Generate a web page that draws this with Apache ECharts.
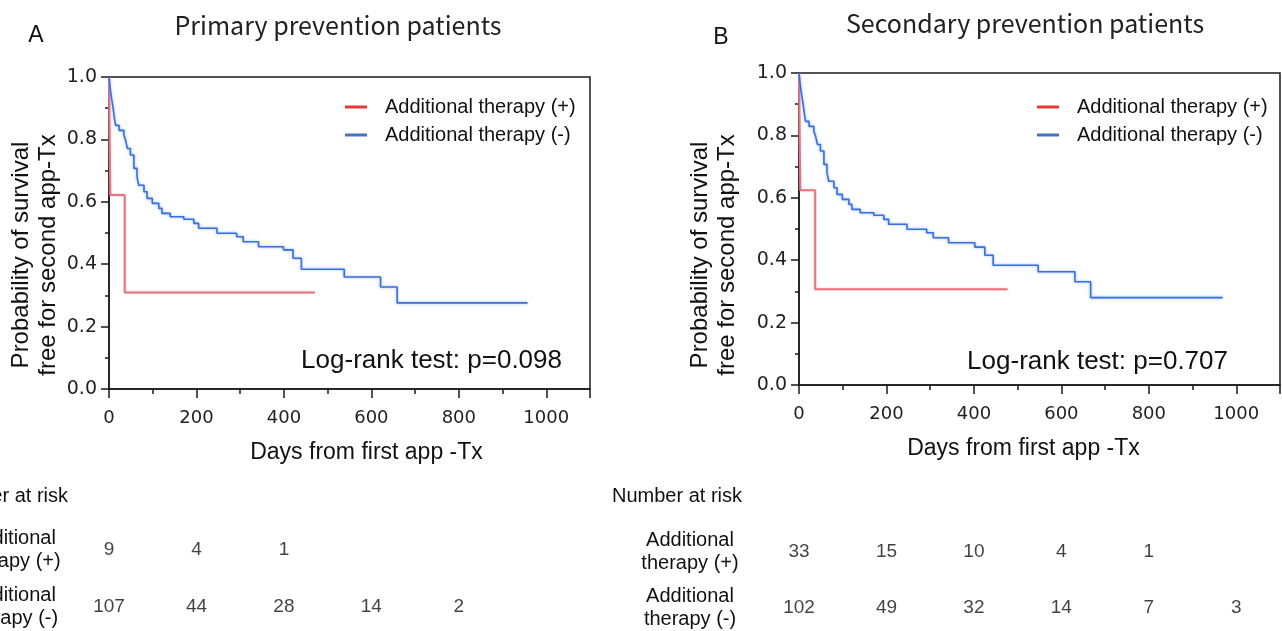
<!DOCTYPE html>
<html>
<head>
<meta charset="utf-8">
<script src="https://cdn.jsdelivr.net/npm/echarts@6/dist/echarts.min.js"></script>
<style>
html,body{margin:0;padding:0;background:#fff;}
#main{width:1282px;height:631px;}
</style>
</head>
<body>
<div id="main"></div>
<script>
// ---------- data ----------
const panelTitles = ['Primary prevention patients', 'Secondary prevention patients'];
const panelLetters = ['A', 'B'];
const seriesNames = ['Additional therapy (+)', 'Additional therapy (-)'];
const pValues = ['Log-rank test: p=0.098', 'Log-rank test: p=0.707'];
const xTicks = [0, 200, 400, 600, 800, 1000];
const yTicks = [0.0, 0.2, 0.4, 0.6, 0.8, 1.0];

// Panel A curves (days, survival)
const redA_t = [0, 3, 36, 471];
const redA_s = [1.0, 0.622, 0.309, 0.309];
const blueA_t = [0,3,6,9,12,15,23,34,38,42,49,57,64,68,80,87,99,114,121,140,171,194,205,247,292,307,342,399,421,440,538,621,659,957];
const blueA_s = [1.0,0.96,0.93,0.904,0.872,0.845,0.829,0.813,0.797,0.771,0.75,0.707,0.68,0.653,0.632,0.611,0.595,0.579,0.563,0.552,0.544,0.531,0.515,0.499,0.488,0.472,0.456,0.446,0.419,0.384,0.359,0.327,0.276,0.276];

// Panel B curves
const redB_t = [0, 3, 37, 477];
const redB_s = [1.0, 0.624, 0.307, 0.307];
const blueB_t = [0,3,6,9,12,15,23,34,38,42,49,57,64,68,80,87,99,114,121,140,171,194,205,247,292,307,342,402,425,444,547,631,667,969];
const blueB_s = [1.0,0.96,0.93,0.904,0.872,0.845,0.829,0.813,0.797,0.771,0.75,0.707,0.68,0.653,0.632,0.611,0.595,0.579,0.563,0.552,0.544,0.531,0.515,0.499,0.488,0.472,0.456,0.442,0.416,0.384,0.363,0.331,0.28,0.28];

// Number at risk
const riskTimes = [0, 200, 400, 600, 800, 1000];
const riskA_plus = [9, 4, 1];
const riskA_minus = [107, 44, 28, 14, 2];
const riskB_plus = [33, 15, 10, 4, 1];
const riskB_minus = [102, 49, 32, 14, 7, 3];
const riskRows = ['Additional\ntherapy (+)', 'Additional\ntherapy (-)'];

// ---------- build ----------
const zip = (t, s) => t.map((d, i) => [d, s[i]]);
const riskData = (vals, row) => vals.map((v, i) => [riskTimes[i], row, v]);

const RED = '#e8747f', BLUE = '#3a6ee0';
const LEG_RED = '#e53935', LEG_BLUE = '#4472c4';
const AX = '#1a1a1a';
const FONT = 'Liberation Sans';

const plotGrids = [
  {left: 109, top: 77, width: 481, height: 312},
  {left: 799, top: 73, width: 481, height: 312}
];
const tableGrids = [
  {left: 109, top: 521, width: 481, height: 114},
  {left: 799, top: 524, width: 481, height: 112}
];

const grid = [];
const xAxis = [];
const yAxis = [];
const series = [];

plotGrids.forEach((g, i) => {
  grid.push(Object.assign({show: true, borderColor: AX, borderWidth: 1.5, backgroundColor: '#fff',
    containLabel: false, outerBoundsMode: 'none'}, g));
  xAxis.push({
    gridIndex: i, type: 'value', min: 0, max: 1100, interval: 200,
    axisLine: {show: true, onZero: false, lineStyle: {color: AX, width: 1.5}},
    axisTick: {show: true, length: 9, lineStyle: {color: AX, width: 1.5}},
    minorTick: {show: true, splitNumber: 2, length: 5, lineStyle: {color: AX, width: 1.5}},
    splitLine: {show: false},
    axisLabel: {color: '#222', fontFamily: 'DejaVu Sans', fontSize: 18, margin: 20,
      formatter: v => (v > 1000 ? '' : String(v))},
    name: 'Days from first app -Tx', nameLocation: 'middle', nameGap: 52,
    nameTextStyle: {color: '#111', fontFamily: FONT, fontSize: 23,
      padding: i === 0 ? [0, 0, 0, 34] : [0, 32, 0, 0]}
  });
  yAxis.push({
    gridIndex: i, type: 'value', min: 0, max: 1, interval: 0.2,
    axisLine: {show: true, onZero: false, lineStyle: {color: AX, width: 1.5}},
    axisTick: {show: true, length: 8, lineStyle: {color: AX, width: 1.5}},
    minorTick: {show: true, splitNumber: 2, length: 4, lineStyle: {color: AX, width: 1.5}},
    splitLine: {show: false},
    axisLabel: {color: '#222', fontFamily: 'DejaVu Sans', fontSize: 19, margin: 12,
      formatter: v => v.toFixed(1)}
  });
});

tableGrids.forEach((g, i) => {
  grid.push(Object.assign({show: false, containLabel: false, outerBoundsMode: 'none'}, g));
  xAxis.push({gridIndex: 2 + i, type: 'value', min: 0, max: 1100, show: false});
  yAxis.push({
    gridIndex: 2 + i, type: 'category', data: riskRows, inverse: true,
    axisLine: {show: false}, axisTick: {show: false}, splitLine: {show: false},
    axisLabel: {color: '#111', fontFamily: FONT, fontSize: 20, lineHeight: 23,
      align: 'center', margin: i === 0 ? 97 : 109}
  });
});

const curveSets = [
  [zip(redA_t, redA_s), zip(blueA_t, blueA_s)],
  [zip(redB_t, redB_s), zip(blueB_t, blueB_s)]
];
curveSets.forEach((sets, i) => {
  series.push({
    name: seriesNames[0], type: 'line', step: 'end', xAxisIndex: i, yAxisIndex: i,
    data: sets[0], showSymbol: false, symbol: 'none', color: RED,
    lineStyle: {color: RED, width: 2, shadowColor: 'rgba(240,150,160,0.6)', shadowBlur: 2}
  });
  series.push({
    name: seriesNames[1], type: 'line', step: 'end', xAxisIndex: i, yAxisIndex: i,
    data: sets[1], showSymbol: false, symbol: 'none', color: BLUE,
    lineStyle: {color: BLUE, width: 1.6, shadowColor: 'rgba(120,160,240,0.8)', shadowBlur: 3}
  });
});

const riskSets = [
  [riskA_plus, riskA_minus],
  [riskB_plus, riskB_minus]
];
riskSets.forEach((rows, i) => {
  rows.forEach((vals, r) => {
    series.push({
      type: 'scatter', xAxisIndex: 2 + i, yAxisIndex: 2 + i,
      data: riskData(vals, riskRows[r]), symbolSize: 0, silent: true,
      label: {show: true, position: 'inside', color: '#111', fontFamily: FONT, fontSize: 19,
        formatter: p => String(p.value[2])}
    });
  });
});

const legendCommon = {
  orient: 'vertical', icon: 'rect', itemWidth: 22, itemHeight: 3, itemGap: 8,
  textStyle: {color: '#111', fontFamily: FONT, fontSize: 20, padding: [0, 0, 0, 13]},
  selectedMode: false,
  data: [
    {name: seriesNames[0], itemStyle: {color: LEG_RED}},
    {name: seriesNames[1], itemStyle: {color: LEG_BLUE}}
  ]
};
const legend = [
  Object.assign({left: 340, top: 92}, legendCommon),
  Object.assign({left: 1032, top: 92}, legendCommon)
];

const graphic = [
  {type: 'text', x: 338, y: 25, style: {text: panelTitles[0], fill: '#222', font: '25px "Noto Sans CJK JP"', align: 'center', verticalAlign: 'middle'}},
  {type: 'text', x: 1025, y: 23, style: {text: panelTitles[1], fill: '#222', font: '25px "Noto Sans CJK JP"', align: 'center', verticalAlign: 'middle'}},
  {type: 'text', x: 36, y: 36, style: {text: panelLetters[0], fill: '#111', font: '23px "Liberation Sans"', align: 'center', verticalAlign: 'middle'}},
  {type: 'text', x: 721, y: 38, style: {text: panelLetters[1], fill: '#111', font: '23px "Liberation Sans"', align: 'center', verticalAlign: 'middle'}},
  {type: 'text', x: 34.5, y: 255, rotation: Math.PI / 2, style: {text: 'Probability of survival\nfree for second app-Tx', fill: '#111', font: '24px "Liberation Sans"', lineHeight: 27, align: 'center', verticalAlign: 'middle'}},
  {type: 'text', x: 714, y: 255, rotation: Math.PI / 2, style: {text: 'Probability of survival\nfree for second app-Tx', fill: '#111', font: '24px "Liberation Sans"', lineHeight: 27, align: 'center', verticalAlign: 'middle'}},
  {type: 'text', x: 562, y: 361, z: 10, style: {text: pValues[0], fill: '#111', font: '26px "Liberation Sans"', align: 'right', verticalAlign: 'middle'}},
  {type: 'text', x: 1228, y: 362, z: 10, style: {text: pValues[1], fill: '#111', font: '26px "Liberation Sans"', align: 'right', verticalAlign: 'middle'}},
  {type: 'text', x: -62, y: 496, style: {text: 'Number at risk', fill: '#111', font: '20px "Liberation Sans"', align: 'left', verticalAlign: 'middle'}},
  {type: 'text', x: 612, y: 496, style: {text: 'Number at risk', fill: '#111', font: '20px "Liberation Sans"', align: 'left', verticalAlign: 'middle'}}
];

const chart = echarts.init(document.getElementById('main'), null, {renderer: 'canvas'});
chart.setOption({
  animation: false,
  backgroundColor: '#fff',
  grid, xAxis, yAxis, series, legend, graphic
});
</script>
</body>
</html>
